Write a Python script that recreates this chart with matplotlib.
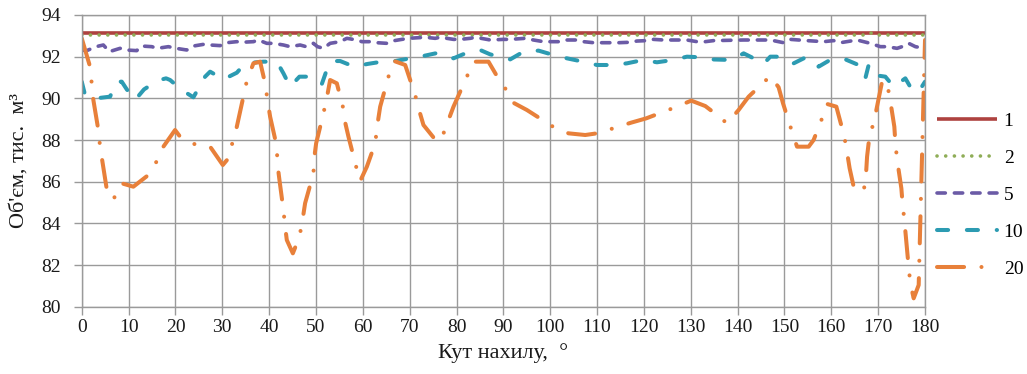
import matplotlib
matplotlib.use("Agg")
import matplotlib.pyplot as plt

# ---------------- data ----------------
labels = ["1", "2", "5", "10", "20"]

x1 = [0, 180]
y1 = [93.12, 93.12]

x2 = [0, 167.3, 168.3, 169.3, 180]
y2 = [93.04, 93.04, 93.15, 93.04, 93.04]

x5 = [0, 1.07, 3.05, 4.61, 5.89, 8.18, 9.46, 11.74, 12.81, 14.95, 16.14, 18.49,
      20.14, 22.42, 23.83, 25.97, 27.4, 29.53, 30.96, 33.1, 34.17, 36.64, 37.71,
      39.5, 40.91, 43.05, 44.48, 46.61, 47.9, 49.46, 50.31, 51.59, 53.02, 55.16,
      56.59, 58.72, 59.79, 61.56, 63.0, 65.13, 66.2, 68.33, 69.74, 71.88, 73.31,
      75.44, 76.51, 79.35, 80.78, 82.92, 83.99, 86.48, 87.19, 90.03, 91.46, 94.66,
      96.43, 98.57, 100, 102.14, 103.57, 105.7, 107.11, 109.25, 111.04, 113.52,
      114.58, 116.93, 118.51, 120.65, 122.06, 124.19, 125.62, 127.76, 129.19,
      131.33, 133.1, 134.87, 141.28, 146.98, 149.82, 151.25, 154.82, 158.36,
      160.49, 161.92, 165.49, 166.9, 168.33, 170.47, 171.9, 174.03, 175.1,
      176.51, 177.94, 180]
y5 = [92.32, 92.29, 92.48, 92.56, 92.24, 92.40, 92.32, 92.29, 92.51, 92.48, 92.40,
      92.48, 92.40, 92.32, 92.51, 92.59, 92.56, 92.53, 92.67, 92.72, 92.69, 92.72,
      92.80, 92.64, 92.64, 92.56, 92.48, 92.56, 92.48, 92.64, 92.48, 92.40, 92.64,
      92.72, 92.88, 92.80, 92.72, 92.72, 92.67, 92.64, 92.75, 92.83, 92.88, 92.91,
      92.93, 92.88, 92.93, 92.83, 92.83, 92.88, 92.93, 92.83, 92.80, 92.83, 92.83,
      92.88, 92.80, 92.72, 92.72, 92.72, 92.80, 92.80, 92.72, 92.67, 92.67, 92.67,
      92.67, 92.69, 92.75, 92.77, 92.83, 92.80, 92.80, 92.80, 92.80, 92.72, 92.72,
      92.77, 92.80, 92.80, 92.67, 92.83, 92.77, 92.72, 92.77, 92.67, 92.80, 92.72,
      92.64, 92.48, 92.48, 92.40, 92.48, 92.64, 92.48, 92.40]

x10 = [0, 0.7, 3.05, 6.04, 7.47, 8.54, 9.61, 11.38, 13.3, 16.14, 18.0, 18.86,
       21.35, 23.83, 26.33, 27.4, 30.24, 33.1, 34.87, 38.78, 41.64, 43.05, 44.48,
       46.47, 49.33, 51.25, 52.66, 53.6, 55.16, 58.15, 60.99, 64.06, 66.9, 70.1,
       72.24, 76.15, 79.35, 82.21, 85.05, 87.19, 91.46, 94.3, 97.5, 100.7, 103.57,
       106.98, 109.97, 113.39, 116.38, 119.8, 122.78, 126.2, 129.19, 132.03,
       134.17, 138.8, 141.28, 144.14, 145.5, 146.98, 149.48, 151.96, 154.82,
       157.29, 159.94, 162.99, 165.83, 167.26, 167.97, 169.04, 171.53, 173.3,
       175.8, 177.24, 178.65, 180]
y10 = [90.80, 90.16, 90.00, 90.08, 90.80, 90.80, 90.43, 89.92, 90.43, 90.85, 90.96,
       90.88, 90.40, 90.05, 91.04, 91.28, 90.91, 91.23, 91.68, 91.76, 91.76, 91.20,
       90.56, 91.04, 91.04, 90.69, 91.60, 91.79, 91.79, 91.52, 91.65, 91.76, 91.79,
       91.92, 92.00, 92.19, 91.92, 92.19, 92.32, 92.11, 91.87, 92.24, 92.29, 92.08,
       91.92, 91.76, 91.60, 91.60, 91.68, 91.84, 91.73, 91.84, 92.00, 91.97, 91.87,
       91.84, 92.16, 91.84, 91.65, 92.00, 92.00, 91.68, 92.00, 91.52, 91.87, 91.87,
       91.60, 90.96, 91.60, 91.12, 91.04, 90.56, 90.96, 90.40, 90.32, 90.80]

x20 = [0, 1.77, 2.48, 3.54, 3.91, 5.47, 6.75, 8.54, 11.02, 14.22, 15.87, 17.42,
       19.92, 20.99, 24.19, 27.4, 30.11, 31.3, 32.16, 33.1, 34.5, 35.23, 36.64,
       38.07, 39.14, 39.72, 40.21, 41.64, 41.77, 42.2, 43.05, 43.41, 43.77, 45.06,
       46.47, 47.1, 47.68, 49.46, 49.6, 50.03, 51.59, 52.32, 53.02, 54.45, 55.73,
       56.22, 56.93, 58.57, 59.43, 60.86, 62.63, 63.21, 63.7, 65.47, 66.69, 69.04,
       71.17, 71.96, 72.94, 75.81, 77.09, 78.28, 79.35, 82.21, 83.62, 86.82, 89.32,
       90.39, 91.95, 95.02, 100.58, 103.91, 107.47, 109.97, 113.88, 117.23, 120.5,
       126.69, 130.1, 133.1, 135.6, 137.73, 140.21, 142.35, 146.98, 148.75, 149.69,
       151.61, 152.68, 155.16, 156.22, 158.02, 159.09, 161.07, 162.78, 163.36,
       163.91, 164.77, 166.9, 167.41, 167.63, 168.33, 169.04, 169.61, 170.83,
       171.75, 172.45, 173.45, 173.67, 174.03, 174.95, 175.23, 175.59, 176.17,
       176.51, 176.87, 177.58, 178.65, 180]
y20 = [92.88, 91.52, 89.92, 88.48, 87.68, 85.45, 85.15, 85.92, 85.76, 86.32, 86.93,
       87.68, 88.48, 88.16, 87.79, 87.68, 86.80, 87.12, 87.87, 88.64, 90.08, 90.83,
       91.68, 91.76, 90.72, 89.81, 89.12, 87.68, 86.85, 86.08, 84.64, 83.84, 83.20,
       82.56, 83.36, 84.12, 84.97, 86.40, 87.09, 87.84, 89.28, 90.03, 90.88, 90.72,
       89.60, 88.85, 88.16, 86.72, 86.03, 86.72, 87.84, 88.88, 89.60, 91.04, 91.79,
       91.60, 90.16, 89.47, 88.72, 87.92, 88.24, 88.96, 89.60, 91.04, 91.76, 91.76,
       90.80, 90.48, 89.81, 89.44, 88.64, 88.32, 88.24, 88.32, 88.59, 88.83, 89.04,
       89.57, 89.89, 89.63, 89.20, 88.80, 89.44, 90.08, 91.07, 90.53, 89.76, 88.40,
       87.68, 87.68, 88.00, 89.04, 89.73, 89.60, 88.16, 87.41, 86.64, 85.76, 85.52,
       86.37, 87.20, 88.56, 88.67, 89.44, 90.80, 90.85, 90.08, 88.64, 87.87, 87.07,
       85.68, 84.88, 84.16, 82.72, 81.89, 81.12, 80.40, 81.04, 92.80]

xticks = list(range(0, 181, 10))
yticks = list(range(80, 95, 2))

# ---------------- style ----------------
plt.rcParams['font.family'] = ['Liberation Serif', 'DejaVu Serif']
plt.rcParams['lines.scale_dashes'] = False

fig = plt.figure(figsize=(10.27, 3.74), dpi=100)
ax = fig.add_axes([0.0796, 0.18, 0.8211, 0.7799])

grid_c = '#9a9a9a'
lw = 2.6

ax.plot(x1, y1, color='#AE423F', lw=lw, solid_capstyle='butt', label=labels[0])
ax.plot(x2, y2, color='#8FAD57', lw=2.6, dashes=(0.05, 6.2),
        dash_capstyle='round', label=labels[1])
ax.plot(x5, y5, color='#6B5BA6', lw=lw, dashes=(6.0, 6.5),
        dash_capstyle='round', label=labels[2])
ax.plot(x10, y10, color='#2C9BB2', lw=2.9, dashes=(8.0, 13.5),
        dash_capstyle='round', label=labels[3])
ax.plot(x20, y20, color='#E8803A', lw=2.9, dashes=(19.5, 12.5, 0.05, 12.5),
        dash_capstyle='round', label=labels[4])

ax.set_xlim(0, 180)
ax.set_ylim(80, 94)
ax.set_xticks(xticks)
ax.set_yticks(yticks)
ax.grid(True, color=grid_c, lw=1.0)
ax.set_axisbelow(True)
for s in ax.spines.values():
    s.set_color(grid_c)
    s.set_linewidth(1.0)
ax.tick_params(axis='both', colors=grid_c, labelcolor='#1a1a1a',
               labelsize=14, length=6, width=1.0)
ax.tick_params(axis='y', pad=9)
ax.tick_params(axis='x', pad=3)

ax.set_ylabel("Об'єм, тис.  м³", fontsize=16, color='#1a1a1a')
ax.yaxis.set_label_coords(-0.063, 0.5)
ax.set_xlabel("Кут нахилу,  °", fontsize=16, color='#1a1a1a')
ax.xaxis.set_label_coords(0.5, -0.126)

leg = ax.legend(loc='center left', bbox_to_anchor=(0.912, 0.478),
                bbox_transform=fig.transFigure, frameon=False, fontsize=14,
                handlelength=3.1, handletextpad=0.35, labelspacing=1.0,
                borderpad=0, borderaxespad=0)

fig.savefig('out.png', dpi=100)
